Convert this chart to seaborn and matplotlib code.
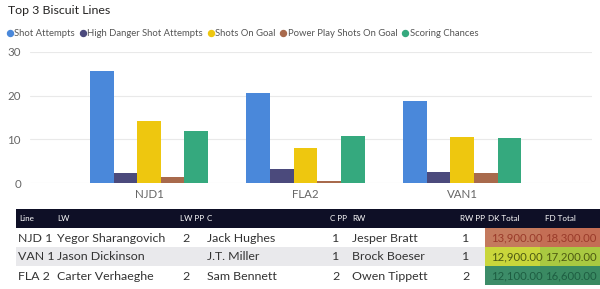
import pandas as pd
import seaborn as sns
import matplotlib.pyplot as plt
from matplotlib.lines import Line2D
from matplotlib.patches import Rectangle

# ---- Chart data ----
lines_cat = ["NJD1", "FLA2", "VAN1"]
metrics = ["Shot Attempts", "High Danger Shot Attempts", "Shots On Goal",
           "Power Play Shots On Goal", "Scoring Chances"]
shot_attempts = [25.6, 20.5, 18.8]
high_danger = [2.4, 3.1, 2.6]
shots_on_goal = [14.2, 8.1, 10.5]
pp_shots = [1.4, 0.4, 2.4]
scoring_chances = [11.9, 10.7, 10.4]
colors = ["#4A88DA", "#4B4A7C", "#EEC70F", "#A86A4C", "#35A97E"]

# ---- Table data ----
tbl_cols = ["Line", "LW", "LW PP", "C", "C PP", "RW", "RW PP", "DK Total", "FD Total"]
t_line = ["NJD 1", "VAN 1", "FLA 2"]
t_lw = ["Yegor Sharangovich", "Jason Dickinson", "Carter Verhaeghe"]
t_lw_pp = ["2", "", "2"]
t_c = ["Jack Hughes", "J.T. Miller", "Sam Bennett"]
t_c_pp = ["1", "1", "2"]
t_rw = ["Jesper Bratt", "Brock Boeser", "Owen Tippett"]
t_rw_pp = ["1", "1", "2"]
t_dk = ["13,900.00", "12,900.00", "12,100.00"]
t_fd = ["18,300.00", "17,200.00", "16,600.00"]
dk_colors = ["#C47A5E", "#C9D63B", "#3C8C68"]
fd_colors = ["#C46E55", "#A9C941", "#3A8A62"]
cell_text = ["#9A3B2A", "#4E5A12", "#1E5E42"]

df = pd.DataFrame({
    "Line": lines_cat * 5,
    "Metric": [m for m in metrics for _ in lines_cat],
    "Value": shot_attempts + high_danger + shots_on_goal + pp_shots + scoring_chances,
})

sns.set_style("white")
plt.rcParams["font.family"] = ["Lato", "DejaVu Sans"]

W, H = 600, 289
fig = plt.figure(figsize=(6, 2.89), dpi=100)

# ---- bar chart ----
ax = fig.add_axes([30 / W, (H - 183) / H, 562 / W, 131 / H])
sns.barplot(data=df, x="Line", y="Value", hue="Metric", order=lines_cat,
            hue_order=metrics, palette=colors, width=0.755, gap=0,
            saturation=1, linewidth=0, ax=ax, legend=False)
ax.set_xlim(-0.76, 2.83)
ax.set_ylim(0, 30)
ax.set_yticks([0, 10, 20, 30])
ax.grid(axis="y", color="#E9E9E9", lw=0.8)
ax.set_axisbelow(True)
sns.despine(ax=ax, left=True, bottom=True)
ax.set_xlabel("")
ax.set_ylabel("")
ax.tick_params(axis="both", length=0, labelsize=8.3, colors="#666666", pad=4)
ax.tick_params(axis="y", pad=6.5)

fig.text(8 / W, 1 - 11 / H, "Top 3 Biscuit Lines", fontsize=8.9,
         color="#252423", va="center", ha="left")

handles = [Line2D([], [], marker="o", ls="", color=c, markersize=4.3) for c in colors]
fig.legend(handles, metrics, loc="center left", bbox_to_anchor=(5 / W, 1 - 34 / H),
           ncol=5, frameon=False, fontsize=6.8, handletextpad=0.0,
           columnspacing=0.3, handlelength=1.0, labelcolor="#555555",
           borderaxespad=0, borderpad=0)

# ---- table ----
tx = fig.add_axes([0, 0, 1, 1], zorder=-1)
tx.set_xlim(0, W)
tx.set_ylim(H, 0)
tx.axis("off")

col_x = [19, 57, 180, 207, 330, 352, 460, 488, 545]
tx.add_patch(Rectangle((16, 209), W - 16, 19, color="#0E0F26", lw=0))
for x, name in zip(col_x, tbl_cols):
    tx.text(x, 218.5, name, color="white", fontsize=5.8, va="center", ha="left")

row_y = [228, 247, 266]
rows = list(zip(t_line, t_lw, t_lw_pp, t_c, t_c_pp, t_rw, t_rw_pp, t_dk, t_fd))
for i, (y, row) in enumerate(zip(row_y, rows)):
    if i == 1:
        tx.add_patch(Rectangle((16, y), W - 16, 19, color="#E9E9EC", lw=0))
    tx.add_patch(Rectangle((485, y), 55, 19, color=dk_colors[i], lw=0))
    tx.add_patch(Rectangle((540, y), 60, 19, color=fd_colors[i], lw=0))
    for j, (x, val) in enumerate(zip(col_x, row)):
        xx = x + 2 if j in (2, 4, 6) else x
        col, fs = "#333333", 8.9
        if j == 0:
            xx = 18
        if j == 7:
            xx, col, fs = 491, cell_text[i], 8.2
        if j == 8:
            col, fs = cell_text[i], 8.2
        tx.text(xx, y + 10, val, color=col, fontsize=fs, va="center", ha="left")

fig.savefig("out.png", dpi=100)
